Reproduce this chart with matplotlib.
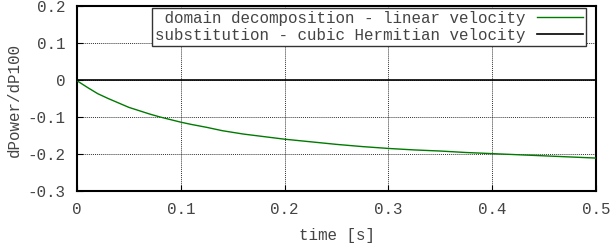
import matplotlib
matplotlib.use("Agg")
import matplotlib.pyplot as plt

# green curve: domain decomposition - linear velocity
t_dd = [0, 0.01, 0.02, 0.03, 0.04, 0.05, 0.06, 0.07, 0.08, 0.09, 0.1,
        0.11, 0.125, 0.14, 0.16, 0.18, 0.2, 0.225, 0.25, 0.275, 0.3, 0.325,
        0.35, 0.375, 0.4, 0.425, 0.45, 0.475, 0.5]
v_dd = [-0.002, -0.02, -0.037, -0.05, -0.062, -0.074, -0.083, -0.092,
        -0.1, -0.107, -0.114, -0.12, -0.128, -0.137, -0.146, -0.153, -0.16,
        -0.167, -0.174, -0.180, -0.185, -0.189, -0.192, -0.196, -0.199,
        -0.202, -0.205, -0.208, -0.211]

# black line: substitution - cubic Hermitian velocity
t_sub = [0, 0.5]
v_sub = [0, 0]

labels = [" domain decomposition - linear velocity",
          "substitution - cubic Hermitian velocity"]
xticks = [0, 0.1, 0.2, 0.3, 0.4, 0.5]
yticks = [-0.3, -0.2, -0.1, 0, 0.1, 0.2]

plt.rcParams['font.family'] = ['Liberation Mono', 'DejaVu Sans Mono']
plt.rcParams['font.size'] = 11.4
txt = '#444444'

fig = plt.figure(figsize=(6.14, 2.46), dpi=100)
ax = fig.add_axes([0.1254, 0.2236, 0.9707 - 0.1254, 0.9756 - 0.2236])

ax.plot(t_dd, v_dd, color='#007a00', lw=1.0, label=labels[0], zorder=3)
ax.plot(t_sub, v_sub, color='black', lw=1.2, label=labels[1], zorder=3)

ax.set_xlim(0, 0.5)
ax.set_ylim(-0.3, 0.2)
ax.set_xticks(xticks)
ax.set_xticklabels(['0', '0.1', '0.2', '0.3', '0.4', '0.5'])
ax.set_yticks(yticks)
ax.set_yticklabels(['-0.3', '-0.2', '-0.1', '0', '0.1', '0.2'])
ax.tick_params(direction='in', length=4, width=0.8, colors='black',
               labelcolor=txt)
ax.tick_params(axis='x', pad=8)
ax.tick_params(axis='y', pad=8.5)
ax.grid(True, color='black', linestyle=(0, (1, 1)), linewidth=0.7, alpha=0.8)
for s in ax.spines.values():
    s.set_linewidth(1.5)

ax.set_xlabel('time [s]', color=txt, labelpad=8)
ax.set_ylabel('dPower/dP100', color=txt)
ax.yaxis.set_label_coords(-0.106, 0.49)

leg = ax.legend(loc='upper right', markerfirst=False, frameon=True, fancybox=False,
                bbox_to_anchor=(0.982, 0.995), borderpad=0.2, handlelength=2.9,
                handletextpad=0.7, labelspacing=0.12, borderaxespad=0.05)
leg.get_frame().set_edgecolor('#333333')
leg.get_frame().set_linewidth(1.0)
leg.get_frame().set_alpha(1)
for t in leg.get_texts():
    t.set_color(txt)

fig.savefig('out.png', dpi=100)
